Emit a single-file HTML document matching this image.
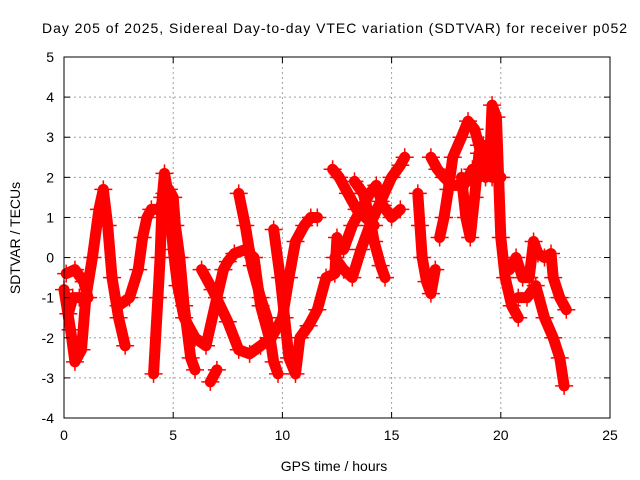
<!DOCTYPE html>
<html><head><meta charset="utf-8"><style>
body{margin:0;background:#fff;}
svg{display:block;font-family:"Liberation Sans",sans-serif;}
</style></head><body>
<svg id="chart" width="640" height="480">
<text x="42" y="33" font-size="14" textLength="585" lengthAdjust="spacing">Day 205 of 2025, Sidereal Day-to-day VTEC variation (SDTVAR) for receiver p052</text>
<g id="grid"></g>
<g id="series"></g>
<rect x="64" y="57" width="546" height="361" fill="none" stroke="#000" stroke-width="1"/>
<g id="ticks"></g>
<text x="334" y="471" font-size="14" text-anchor="middle">GPS time / hours</text>
<text transform="translate(20,238) rotate(-90)" font-size="14" text-anchor="middle">SDTVAR / TECUs</text>
</svg>
<script>
const xTicks=[0,5,10,15,20,25];
const yTicks=[-4,-3,-2,-1,0,1,2,3,4,5];
const trackA=[[0,-0.8],[0.3,-1.8],[0.5,-2.6],[0.8,-2.3],[1.0,-1.0],[1.3,0],[1.6,1.2],[1.8,1.7],[2.0,0.8],[2.2,-0.5],[2.5,-1.5],[2.8,-2.2]];
const trackA2=[[0.1,-0.4],[0.5,-0.3],[0.9,-0.6],[1.1,-1.0],[0.7,-1.0],[0.4,-1.0],[0.2,-1.4]];
const trackB=[[2.5,-1.2],[3.0,-1.0],[3.4,-0.3],[3.6,0.5],[3.8,1.0],[4.0,1.2],[4.4,1.2],[4.6,1.6],[4.8,1.7],[5.0,1.5],[5.1,0.8],[5.3,0],[5.5,-1.2],[5.8,-2.5],[6.0,-2.8]];
const trackC=[[4.1,-2.9],[4.3,-1.0],[4.4,0],[4.5,1.5],[4.6,2.1],[4.8,1.5],[5.0,0.2],[5.2,-0.7],[5.5,-1.5],[6.0,-2.0],[6.5,-2.2],[7.0,-1.0],[7.3,-0.3],[7.5,-0.1],[7.8,0.1],[8.3,0.2],[8.7,0],[9.0,-1.2],[9.4,-2.0]];
const trackD=[[6.3,-0.3],[6.8,-0.8],[7.5,-1.6],[8.0,-2.3],[8.5,-2.4],[9.0,-2.2],[9.5,-2.0],[10.0,-1.5],[10.3,-0.5],[10.6,0.4],[11.0,0.8],[11.3,1.0],[11.6,1.0]];
const trackE=[[8.0,1.6],[8.3,0.8],[8.6,-0.2],[9.0,-1.0],[9.3,-1.5],[9.6,-2.6],[9.8,-2.9]];
const trackF=[[6.7,-3.1],[7.0,-2.8]];
const trackG=[[9.6,0.7],[9.9,-0.5],[10.1,-1.5],[10.3,-2.5],[10.6,-2.9],[10.8,-2.0],[11.2,-1.7],[11.6,-1.3],[12.0,-0.5],[12.4,-0.4],[12.5,0.5]];
const trackH=[[12.3,2.2],[12.6,2.0],[13.0,1.6],[13.4,1.2],[13.8,1.0],[14.2,0.8]];
const trackI=[[12.4,0],[12.8,-0.3],[13.2,-0.5],[13.6,0.2],[14.0,0.8],[14.5,1.4],[15.0,2.0],[15.4,2.3],[15.6,2.5]];
const trackJ=[[12.8,0.2],[13.2,0.8],[13.6,1.2],[14.0,1.6],[14.3,1.8],[14.6,1.3],[15.0,1.0],[15.4,1.2]];
const trackK=[[13.3,1.9],[13.7,1.6],[14.0,1.0],[14.2,0.4],[14.5,-0.2],[14.7,-0.5]];
const trackL=[[16.2,1.6],[16.3,0.8],[16.4,0],[16.6,-0.6],[16.8,-0.9],[17.0,-0.3]];
const trackM=[[17.2,0.5],[17.4,1.0],[17.6,1.7],[17.8,2.5],[18.2,3.0],[18.5,3.4],[18.8,3.2],[19.0,2.8],[19.3,2.0],[19.5,2.5],[19.6,3.8],[19.8,3.5],[19.9,2.0],[20.0,0.5],[20.2,-0.5],[20.5,-1.2],[20.8,-1.5]];
const trackN=[[16.8,2.5],[17.1,2.2],[17.4,2.0],[17.8,1.8],[18.3,1.8],[18.7,2.2],[19.0,2.0],[19.3,2.5],[19.6,2.0],[20.0,2.0]];
const trackO=[[18.2,2.0],[18.4,1.0],[18.6,0.5],[18.8,1.5],[19.0,2.6],[19.2,2.8]];
const trackP=[[20.4,-0.3],[20.7,0],[21.0,-0.5],[21.3,-0.5],[21.5,0.4],[21.7,0.1],[22.0,0],[22.3,0.1],[22.4,-0.5],[22.7,-1.0],[23.0,-1.3]];
const trackQ=[[20.8,-1.0],[21.2,-1.0],[21.6,-0.7],[22.0,-1.5],[22.4,-2.0],[22.7,-2.5],[22.9,-3.2]];
const tracks=[trackA,trackA2,trackB,trackC,trackD,trackE,trackF,trackG,trackH,trackI,trackJ,trackK,trackL,trackM,trackN,trackO,trackP,trackQ];

const X0=64,X1=610,Y0=418,Y1=57,xmin=0,xmax=25,ymin=-4,ymax=5;
function xs(v){return X0+(v-xmin)/(xmax-xmin)*(X1-X0);}
function ys(v){return Y0-(v-ymin)/(ymax-ymin)*(Y0-Y1);}
const NS="http://www.w3.org/2000/svg";
function mk(t,a,p){const e=document.createElementNS(NS,t);for(const k in a)e.setAttribute(k,a[k]);p.appendChild(e);return e;}
const grid=document.getElementById('grid'),ticks=document.getElementById('ticks'),ser=document.getElementById('series');
xTicks.forEach(t=>{
  const x=xs(t);
  if(t>xmin&&t<xmax){const l=mk('line',{x1:x,x2:x,y1:Y1,y2:Y0,stroke:'#a0a0a0','stroke-dasharray':'2,3'},grid);
  
  }
  mk('line',{x1:x,x2:x,y1:Y0,y2:Y0-6,stroke:'#000'},ticks);
  mk('line',{x1:x,x2:x,y1:Y1,y2:Y1+6,stroke:'#000'},ticks);
  const tx=mk('text',{x:x,y:Y0+22,'font-size':14,'text-anchor':'middle'},ticks);tx.textContent=t;
  
  
});
yTicks.forEach(t=>{
  const y=ys(t);
  if(t>ymin&&t<ymax){const l=mk('line',{x1:X0,x2:X1,y1:y,y2:y,stroke:'#a0a0a0','stroke-dasharray':'2,3'},grid);
  
  }
  mk('line',{x1:X0,x2:X0+6,y1:y,y2:y,stroke:'#000'},ticks);
  mk('line',{x1:X1,x2:X1-6,y1:y,y2:y,stroke:'#000'},ticks);
  const tx=mk('text',{x:X0-10,y:y+5,'font-size':14,'text-anchor':'end'},ticks);tx.textContent=t;
  
  
});
tracks.forEach(tr=>{
  const pl=mk('polyline',{points:tr.map(p=>xs(p[0])+','+ys(p[1])).join(' '),fill:'none',stroke:'#ff0000','stroke-width':11,'stroke-linejoin':'round','stroke-linecap':'round'},ser);
  
  
  tr.forEach(p=>{
    const x=xs(p[0]),y=ys(p[1]);
    const m=mk('path',{d:`M${x-9},${y}H${x+9}M${x},${y-9}V${y+9}`,stroke:'#ff0000','stroke-width':1.5},ser);
    
    
  });
});
</script>
</body></html>
